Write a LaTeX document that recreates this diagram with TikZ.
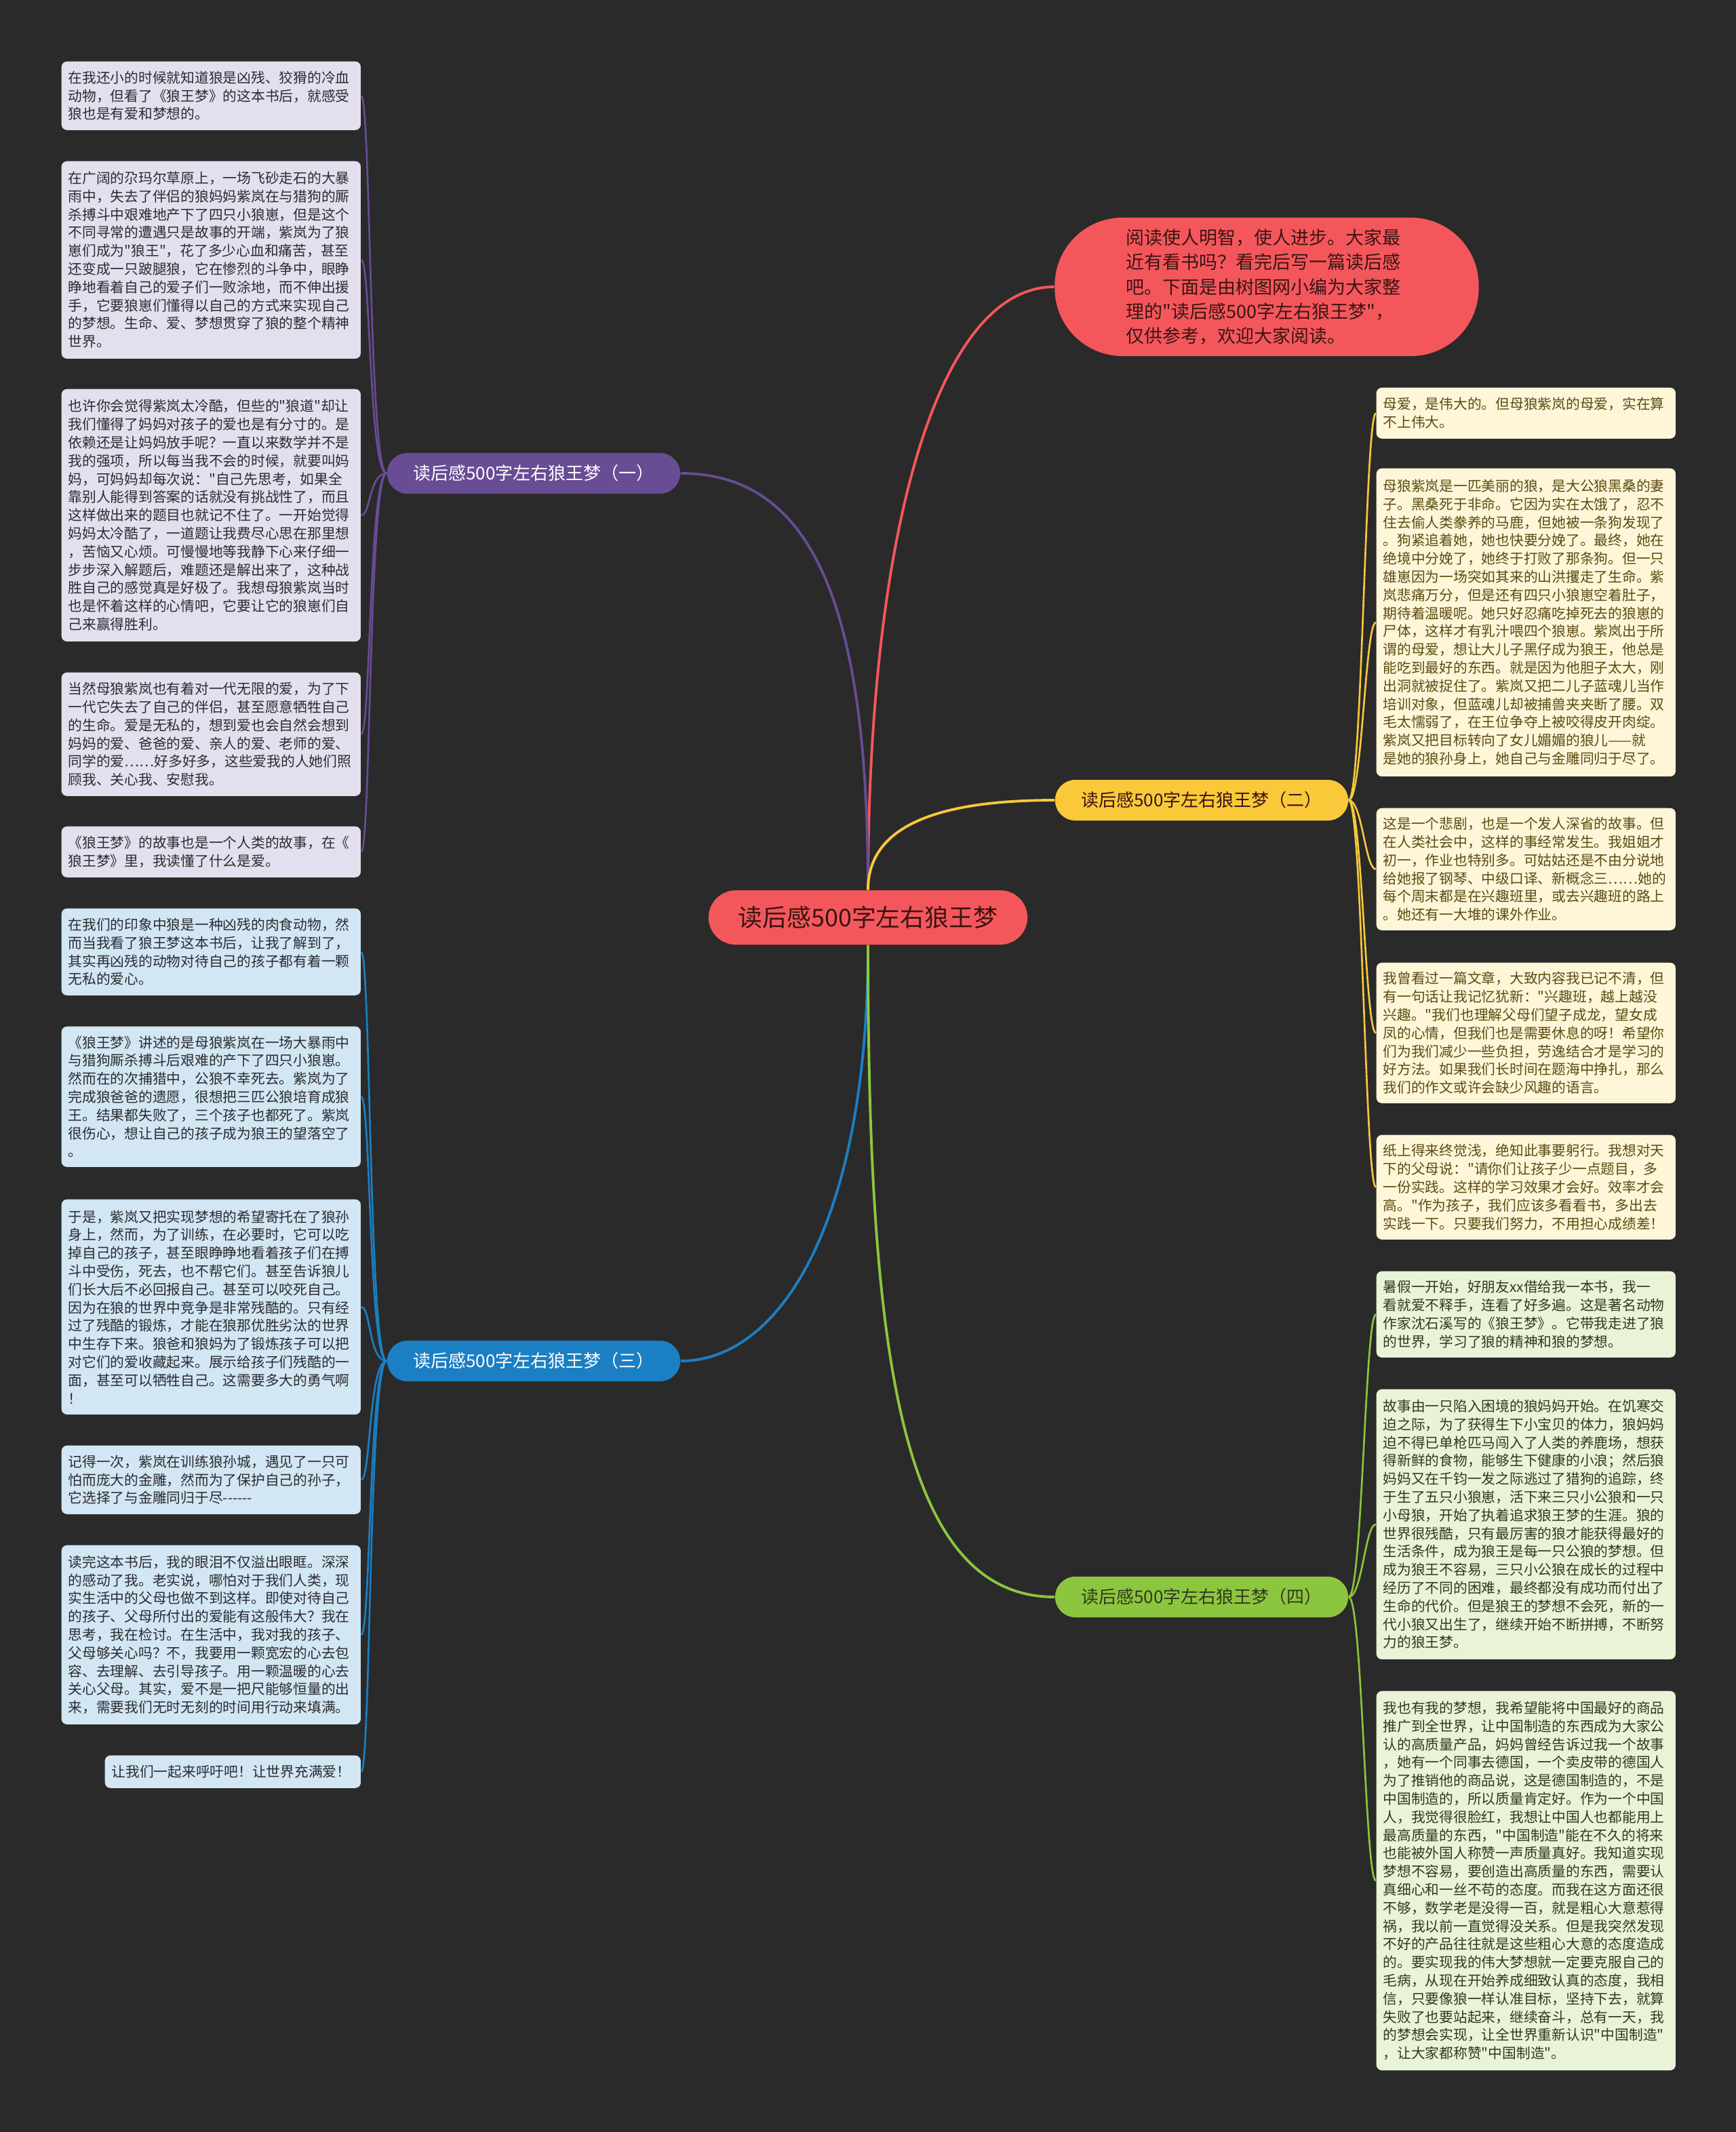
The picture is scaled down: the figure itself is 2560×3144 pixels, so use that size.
\documentclass[tikz,border=0pt]{standalone}
\usepackage{fontspec}
\newfontfamily\cjk{Noto Sans CJK SC}
\definecolor{bg}{HTML}{2A2A2A}
\definecolor{cred}{HTML}{F4575B}
\definecolor{cpurple}{HTML}{684C94}
\definecolor{cyellow}{HTML}{F9C93A}
\definecolor{cblue}{HTML}{1B7FC4}
\definecolor{cgreen}{HTML}{8CC63E}
\definecolor{lpurfill}{HTML}{E4DFEE}
\definecolor{lbluefill}{HTML}{D2E6F3}
\definecolor{lyelfill}{HTML}{FDF6D8}
\definecolor{lgrnfill}{HTML}{E8F3D8}
\definecolor{tdark}{HTML}{2B2B30}
\definecolor{tyel}{HTML}{5C4A12}
\definecolor{tgrn}{HTML}{2E3A1E}
\definecolor{tred}{HTML}{3A1414}
\tikzset{
  leaf/.style={rounded corners=0.08cm, anchor=north west, text width=4.21cm,
    inner xsep=0.1cm, inner ysep=0pt, align=left,
    font=\cjk\fontsize{5.9}{7.62}\selectfont},
  lpur/.style={leaf, fill=lpurfill, text=tdark},
  lblu/.style={leaf, fill=lbluefill, text=tdark},
  lyel/.style={leaf, fill=lyelfill, text=tyel},
  lgrn/.style={leaf, fill=lgrnfill, text=tgrn},
  branch/.style={rounded corners=0.3cm, minimum width=4.32cm, minimum height=0.6cm,
    inner sep=0pt, font=\cjk\fontsize{7.4}{9}\selectfont},
  rootnode/.style={rounded corners=0.4cm, minimum width=4.7cm, minimum height=0.8cm,
    inner sep=0pt, fill=cred, text=tred, font=\cjk\fontsize{10.2}{12}\selectfont},
  intronode/.style={rounded corners=1.0cm, minimum width=6.25cm, minimum height=2.04cm,
    inner xsep=0.5cm, inner ysep=0pt, fill=cred, text=tred, text width=4.15cm, align=left,
    font=\cjk\fontsize{7.68}{10.24}\selectfont},
  mainline/.style={line width=1.1pt},
  subline/.style={line width=0.75pt},
}
\begin{document}
\begin{tikzpicture}[x=0.01cm,y=-0.01cm]
\fill[bg] (0,0) rectangle (2560,3144);
\useasboundingbox (0,0) rectangle (2560,3144);

% central and branch nodes
\node[rootnode] (root) at (1280,1353) {读后感500字左右狼王梦};
\node[intronode] (intro) at (1868,423) {阅读使人明智，使人进步。大家最\\近有看书吗？看完后写一篇读后感\\吧。下面是由树图网小编为大家整\\理的"读后感500字左右狼王梦"，\\仅供参考，欢迎大家阅读。};
\node[branch, fill=cpurple, text=white] (p1) at (787,698) {读后感500字左右狼王梦（一）};
\node[branch, fill=cyellow, text=tred] (p2) at (1772,1180) {读后感500字左右狼王梦（二）};
\node[branch, fill=cblue, text=white] (p3) at (787,2007) {读后感500字左右狼王梦（三）};
\node[branch, fill=cgreen, text=tgrn] (p4) at (1772,2355) {读后感500字左右狼王梦（四）};

% purple leaves
\node[lpur, minimum height=1.01cm] (L1) at (90,90) {在我还小的时候就知道狼是凶残、狡猾的冷血\\动物，但看了《狼王梦》的这本书后，就感受\\狼也是有爱和梦想的。};
\node[lpur, minimum height=2.91cm] (L2) at (90,237) {在广阔的尕玛尔草原上，一场飞砂走石的大暴\\雨中，失去了伴侣的狼妈妈紫岚在与猎狗的厮\\杀搏斗中艰难地产下了四只小狼崽，但是这个\\不同寻常的遭遇只是故事的开端，紫岚为了狼\\崽们成为"狼王"，花了多少心血和痛苦，甚至\\还变成一只跛腿狼，它在惨烈的斗争中，眼睁\\睁地看着自己的爱子们一败涂地，而不伸出援\\手，它要狼崽们懂得以自己的方式来实现自己\\的梦想。生命、爱、梦想贯穿了狼的整个精神\\世界。};
\node[lpur, minimum height=3.72cm] (L3) at (90,573) {也许你会觉得紫岚太冷酷，但些的"狼道"却让\\我们懂得了妈妈对孩子的爱也是有分寸的。是\\依赖还是让妈妈放手呢？一直以来数学并不是\\我的强项，所以每当我不会的时候，就要叫妈\\妈，可妈妈却每次说："自己先思考，如果全\\靠别人能得到答案的话就没有挑战性了，而且\\这样做出来的题目也就记不住了。一开始觉得\\妈妈太冷酷了，一道题让我费尽心思在那里想\\，苦恼又心烦。可慢慢地等我静下心来仔细一\\步步深入解题后，难题还是解出来了，这种战\\胜自己的感觉真是好极了。我想母狼紫岚当时\\也是怀着这样的心情吧，它要让它的狼崽们自\\己来赢得胜利。};
\node[lpur, minimum height=1.82cm] (L4) at (90,991) {当然母狼紫岚也有着对一代无限的爱，为了下\\一代它失去了自己的伴侣，甚至愿意牺牲自己\\的生命。爱是无私的，想到爱也会自然会想到\\妈妈的爱、爸爸的爱、亲人的爱、老师的爱、\\同学的爱……好多好多，这些爱我的人她们照\\顾我、关心我、安慰我。};
\node[lpur, minimum height=0.75cm] (L5) at (90,1218) {《狼王梦》的故事也是一个人类的故事，在《\\狼王梦》里，我读懂了什么是爱。};

% blue leaves
\node[lblu, minimum height=1.28cm] (B1) at (90,1339) {在我们的印象中狼是一种凶残的肉食动物，然\\而当我看了狼王梦这本书后，让我了解到了，\\其实再凶残的动物对待自己的孩子都有着一颗\\无私的爱心。};
\node[lblu, minimum height=2.07cm] (B2) at (90,1513) {《狼王梦》讲述的是母狼紫岚在一场大暴雨中\\与猎狗厮杀搏斗后艰难的产下了四只小狼崽。\\然而在的次捕猎中，公狼不幸死去。紫岚为了\\完成狼爸爸的遗愿，很想把三匹公狼培育成狼\\王。结果都失败了，三个孩子也都死了。紫岚\\很伤心，想让自己的孩子成为狼王的望落空了\\。};
\node[lblu, minimum height=3.17cm] (B3) at (90,1768) {于是，紫岚又把实现梦想的希望寄托在了狼孙\\身上，然而，为了训练，在必要时，它可以吃\\掉自己的孩子，甚至眼睁睁地看着孩子们在搏\\斗中受伤，死去，也不帮它们。甚至告诉狼儿\\们长大后不必回报自己。甚至可以咬死自己。\\因为在狼的世界中竞争是非常残酷的。只有经\\过了残酷的锻炼，才能在狼那优胜劣汰的世界\\中生存下来。狼爸和狼妈为了锻炼孩子可以把\\对它们的爱收藏起来。展示给孩子们残酷的一\\面，甚至可以牺牲自己。这需要多大的勇气啊\\！};
\node[lblu, minimum height=1.01cm] (B4) at (90,2131) {记得一次，紫岚在训练狼孙城，遇见了一只可\\怕而庞大的金雕，然而为了保护自己的孙子，\\它选择了与金雕同归于尽-\kern0pt-\kern0pt-\kern0pt-\kern0pt-\kern0pt-};
\node[lblu, minimum height=2.64cm] (B5) at (90,2278) {读完这本书后，我的眼泪不仅溢出眼眶。深深\\的感动了我。老实说，哪怕对于我们人类，现\\实生活中的父母也做不到这样。即使对待自己\\的孩子、父母所付出的爱能有这般伟大？我在\\思考，我在检讨。在生活中，我对我的孩子、\\父母够关心吗？不，我要用一颗宽宏的心去包\\容、去理解、去引导孩子。用一颗温暖的心去\\关心父母。其实，爱不是一把尺能够恒量的出\\来，需要我们无时无刻的时间用行动来填满。};
\node[lblu, minimum height=0.48cm, text width=3.57cm] (B6) at (154,2588) {让我们一起来呼吁吧！让世界充满爱！};

% yellow leaves
\node[lyel, minimum height=0.75cm] (Y1) at (2029,571) {母爱，是伟大的。但母狼紫岚的母爱，实在算\\不上伟大。};
\node[lyel, minimum height=4.54cm] (Y2) at (2029,690) {母狼紫岚是一匹美丽的狼，是大公狼黑桑的妻\\子。黑桑死于非命。它因为实在太饿了，忍不\\住去偷人类豢养的马鹿，但她被一条狗发现了\\。狗紧追着她，她也快要分娩了。最终，她在\\绝境中分娩了，她终于打败了那条狗。但一只\\雄崽因为一场突如其来的山洪攫走了生命。紫\\岚悲痛万分，但是还有四只小狼崽空着肚子，\\期待着温暖呢。她只好忍痛吃掉死去的狼崽的\\尸体，这样才有乳汁喂四个狼崽。紫岚出于所\\谓的母爱，想让大儿子黑仔成为狼王，他总是\\能吃到最好的东西。就是因为他胆子太大，刚\\出洞就被捉住了。紫岚又把二儿子蓝魂儿当作\\培训对象，但蓝魂儿却被捕兽夹夹断了腰。双\\毛太懦弱了，在王位争夺上被咬得皮开肉绽。\\紫岚又把目标转向了女儿媚媚的狼儿——就\\是她的狼孙身上，她自己与金雕同归于尽了。};
\node[lyel, minimum height=1.80cm] (Y3) at (2029,1191) {这是一个悲剧，也是一个发人深省的故事。但\\在人类社会中，这样的事经常发生。我姐姐才\\初一，作业也特别多。可姑姑还是不由分说地\\给她报了钢琴、中级口译、新概念三……她的\\每个周末都是在兴趣班里，或去兴趣班的路上\\。她还有一大堆的课外作业。};
\node[lyel, minimum height=2.07cm] (Y4) at (2029,1419) {我曾看过一篇文章，大致内容我已记不清，但\\有一句话让我记忆犹新："兴趣班，越上越没\\兴趣。"我们也理解父母们望子成龙，望女成\\凤的心情，但我们也是需要休息的呀！希望你\\们为我们减少一些负担，劳逸结合才是学习的\\好方法。如果我们长时间在题海中挣扎，那么\\我们的作文或许会缺少风趣的语言。};
\node[lyel, minimum height=1.54cm] (Y5) at (2029,1673) {纸上得来终觉浅，绝知此事要躬行。我想对天\\下的父母说："请你们让孩子少一点题目，多\\一份实践。这样的学习效果才会好。效率才会\\高。"作为孩子，我们应该多看看书，多出去\\实践一下。只要我们努力，不用担心成绩差！};

% green leaves
\node[lgrn, minimum height=1.27cm] (G1) at (2029,1874) {暑假一开始，好朋友xx借给我一本书，我一\\看就爱不释手，连看了好多遍。这是著名动物\\作家沈石溪写的《狼王梦》。它带我走进了狼\\的世界，学习了狼的精神和狼的梦想。};
\node[lgrn, minimum height=3.98cm] (G2) at (2029,2048) {故事由一只陷入困境的狼妈妈开始。在饥寒交\\迫之际，为了获得生下小宝贝的体力，狼妈妈\\迫不得已单枪匹马闯入了人类的养鹿场，想获\\得新鲜的食物，能够生下健康的小浪；然后狼\\妈妈又在千钧一发之际逃过了猎狗的追踪，终\\于生了五只小狼崽，活下来三只小公狼和一只\\小母狼，开始了执着追求狼王梦的生涯。狼的\\世界很残酷，只有最厉害的狼才能获得最好的\\生活条件，成为狼王是每一只公狼的梦想。但\\成为狼王不容易，三只小公狼在成长的过程中\\经历了不同的困难，最终都没有成功而付出了\\生命的代价。但是狼王的梦想不会死，新的一\\代小狼又出生了，继续开始不断拼搏，不断努\\力的狼王梦。};
\node[lgrn, minimum height=5.59cm] (G3) at (2029,2493) {我也有我的梦想，我希望能将中国最好的商品\\推广到全世界，让中国制造的东西成为大家公\\认的高质量产品，妈妈曾经告诉过我一个故事\\，她有一个同事去德国，一个卖皮带的德国人\\为了推销他的商品说，这是德国制造的，不是\\中国制造的，所以质量肯定好。作为一个中国\\人，我觉得很脸红，我想让中国人也都能用上\\最高质量的东西，"中国制造"能在不久的将来\\也能被外国人称赞一声质量真好。我知道实现\\梦想不容易，要创造出高质量的东西，需要认\\真细心和一丝不苟的态度。而我在这方面还很\\不够，数学老是没得一百，就是粗心大意惹得\\祸，我以前一直觉得没关系。但是我突然发现\\不好的产品往往就是这些粗心大意的态度造成\\的。要实现我的伟大梦想就一定要克服自己的\\毛病，从现在开始养成细致认真的态度，我相\\信，只要像狼一样认准目标，坚持下去，就算\\失败了也要站起来，继续奋斗，总有一天，我\\的梦想会实现，让全世界重新认识"中国制造"\\，让大家都称赞"中国制造"。};

% main connectors
\draw[mainline, cred] (root.north) .. controls +(0,-513) and +(-176,0) .. (intro.west);
\draw[mainline, cpurple] (root.north) .. controls +(0,-413) and +(197,0) .. (p1.east);
\draw[mainline, cyellow] (root.north) .. controls +(0,-93) and +(-176,0) .. (p2.west);
\draw[mainline, cblue] (root.south) .. controls +(0,407) and +(147,0) .. (p3.east);
\draw[mainline, cgreen] (root.south) .. controls +(0,607) and +(-226,0) .. (p4.west);

% leaf connectors
\foreach \n in {L1,L2,L3,L4,L5}
  \draw[subline, cpurple] (p1.west) .. controls +(-26,0) and +(14,0) .. (\n.east);
\foreach \n in {B1,B2,B3,B4,B5,B6}
  \draw[subline, cblue] (p3.west) .. controls +(-26,0) and +(14,0) .. (\n.east);
\foreach \n in {Y1,Y2,Y3,Y4,Y5}
  \draw[subline, cyellow] (p2.east) .. controls +(20,0) and +(-16,0) .. (\n.west);
\foreach \n in {G1,G2,G3}
  \draw[subline, cgreen] (p4.east) .. controls +(20,0) and +(-16,0) .. (\n.west);
\end{tikzpicture}
\end{document}
